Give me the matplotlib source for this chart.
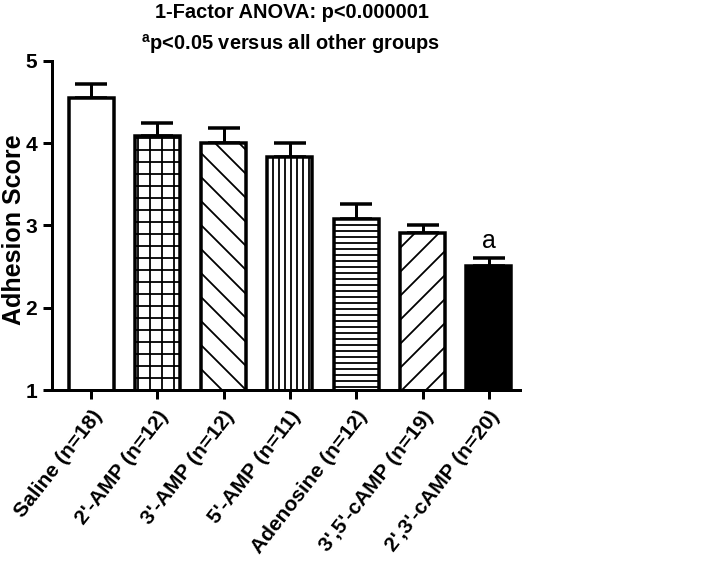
import matplotlib

matplotlib.use("Agg")
import matplotlib.pyplot as plt

groups = [
    "Saline (n=18)",
    "2'-AMP (n=12)",
    "3'-AMP (n=12)",
    "5'-AMP (n=11)",
    "Adenosine (n=12)",
    "3',5'-cAMP (n=19)",
    "2',3'-cAMP (n=20)",
]
means = [4.55, 4.09, 4.00, 3.83, 3.08, 2.91, 2.51]
sems = [0.17, 0.16, 0.18, 0.17, 0.18, 0.10, 0.10]
hatches = ["", "+", "\\", "||", "--", "/", ""]
fills = ["white", "white", "white", "white", "white", "white", "black"]

plt.rcParams["font.family"] = ["Liberation Sans", "DejaVu Sans"]
plt.rcParams["hatch.linewidth"] = 1.8
plt.rcParams["mathtext.fontset"] = "custom"
plt.rcParams["mathtext.bf"] = "Liberation Sans:bold"
plt.rcParams["mathtext.rm"] = "Liberation Sans:bold"

fig = plt.figure(figsize=(708 / 72, 564 / 72), dpi=72)
ax = fig.add_axes([0.0734, 0.3085, 0.6610, 0.5835])

x = list(range(len(groups)))
ax.errorbar(x, means, yerr=[[0] * len(sems), sems], fmt="none", ecolor="black",
            elinewidth=3, capsize=16, capthick=3.5, zorder=1)
ax.bar(x, means, width=0.68, bottom=0, color=fills, edgecolor="black",
       linewidth=3.5, hatch=hatches, zorder=2)

ax.text(x[-1], means[-1] + sems[-1] + 0.06, "a", ha="center", va="bottom", fontsize=25)

ax.set_ylim(1, 5)
ax.set_xlim(-0.59, 6.47)
ax.set_yticks([1, 2, 3, 4, 5])
ax.set_xticks(x)
ax.set_xticklabels(groups, rotation=52, ha="right", rotation_mode="anchor",
                   fontsize=21, fontweight="bold")
ax.tick_params(axis="y", labelsize=21, width=3, length=9, pad=6)
ax.tick_params(axis="x", width=3, length=9, pad=8)
for lab in ax.get_yticklabels():
    lab.set_fontweight("bold")

ax.spines["top"].set_visible(False)
ax.spines["right"].set_visible(False)
ax.spines["left"].set_linewidth(3)
ax.spines["bottom"].set_linewidth(3)

fig.text(2 / 708, 0.592, "Adhesion Score", rotation=90, ha="left", va="center",
         fontsize=25, fontweight="bold")

fig.text(0.412, 0.977, "1-Factor ANOVA: p<0.000001", ha="center", va="center",
         fontsize=20, fontweight="bold")
fig.text(0.410, 0.922, r"$^{\mathbf{a}}$p<0.05 versus all other groups", ha="center",
         va="center", fontsize=20, fontweight="bold")

fig.savefig("out.png", dpi=72)
